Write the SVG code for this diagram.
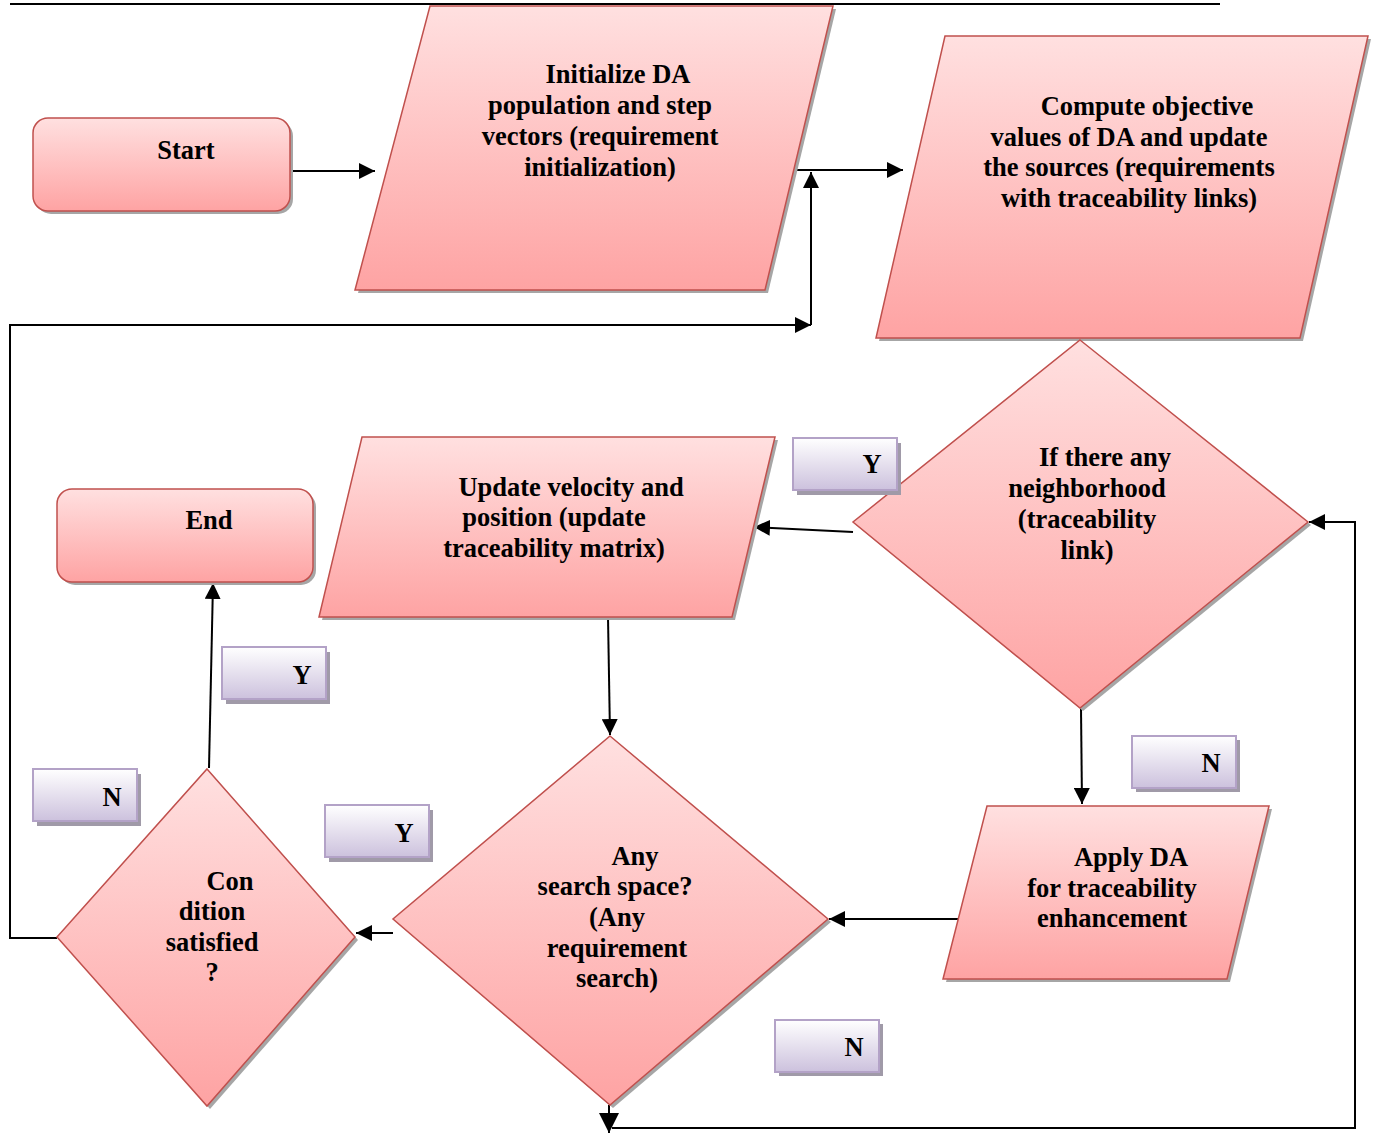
<svg xmlns="http://www.w3.org/2000/svg" width="1374" height="1134" viewBox="0 0 1374 1134">
<style>
.shp{stroke:#C0504D;stroke-width:1.5;fill:url(#pink)}
.sh{fill:#a6a6a6}
.lbl{stroke:#B3A2C7;stroke-width:2;fill:url(#lav)}
.lsh{fill:#a09aa8}
.t{font-family:"Liberation Serif","Times New Roman",serif;font-weight:bold;font-size:26.5px;fill:#000;text-anchor:middle}
.c{stroke:#000;stroke-width:2;fill:none}
</style>
<defs>
<linearGradient id="pink" x1="0" y1="0" x2="0" y2="1">
<stop offset="0" stop-color="#FFE0E0"/>
<stop offset="1" stop-color="#FEA3A3"/>
</linearGradient>
<linearGradient id="lav" x1="0" y1="0" x2="0" y2="1">
<stop offset="0" stop-color="#FFFFFF"/>
<stop offset="1" stop-color="#CCC1DD"/>
</linearGradient>
<marker id="ah" viewBox="0 0 10 10" refX="10" refY="5" markerWidth="16" markerHeight="16" markerUnits="userSpaceOnUse" orient="auto">
<path d="M0,0 L10,5 L0,10 Z" fill="#000"/>
</marker>
<marker id="ahb" viewBox="0 0 10 10" refX="10" refY="5" markerWidth="22" markerHeight="20" markerUnits="userSpaceOnUse" orient="auto">
<path d="M0,0 L10,5 L0,10 Z" fill="#000"/>
</marker>
</defs>
<rect width="1374" height="1134" fill="#fff"/>
<line x1="10" y1="4" x2="1220" y2="4" stroke="#000" stroke-width="2"/>

<g id="connectors">
<line class="c" x1="291" y1="171" x2="375" y2="171" marker-end="url(#ah)"/>
<line class="c" x1="795" y1="170" x2="903" y2="170" marker-end="url(#ah)"/>
<polyline class="c" points="57,938 10,938 10,325 811,325" marker-end="url(#ah)"/>
<line class="c" x1="811" y1="325" x2="811" y2="172" marker-end="url(#ah)"/>
<line class="c" x1="853" y1="532" x2="754" y2="527" marker-end="url(#ah)"/>
<line class="c" x1="1081" y1="708" x2="1082" y2="804" marker-end="url(#ah)"/>
<line class="c" x1="958" y1="919" x2="829" y2="919" marker-end="url(#ah)"/>
<line class="c" x1="608" y1="617" x2="610" y2="735" marker-end="url(#ah)"/>
<line class="c" x1="393" y1="933" x2="356" y2="933" marker-end="url(#ah)"/>
<line class="c" x1="209" y1="768" x2="213" y2="583" marker-end="url(#ah)"/>
<line class="c" x1="609" y1="1105" x2="609" y2="1133" marker-end="url(#ahb)"/>
<polyline class="c" points="612,1128 1355,1128 1355,522 1309,522" marker-end="url(#ah)"/>
</g>

<g id="start">
<rect class="sh" x="36" y="121" width="257" height="93" rx="15"/>
<rect class="shp" x="33" y="118" width="257" height="93" rx="15"/>
<text class="t" x="186" y="159">Start</text>
</g>

<g id="init">
<polygon class="sh" points="433,9 836,9 768,293 358,293"/>
<polygon class="shp" points="430,6 833,6 765,290 355,290"/>
<text class="t"><tspan x="618" y="83">Initialize DA</tspan><tspan x="600" y="114">population and step</tspan><tspan x="600" y="145">vectors (requirement</tspan><tspan x="600" y="176">initialization)</tspan></text>
</g>

<g id="compute">
<polygon class="sh" points="948,39 1371,39 1303,341 879,341"/>
<polygon class="shp" points="945,36 1368,36 1300,338 876,338"/>
<text class="t"><tspan x="1147" y="115">Compute objective</tspan><tspan x="1129" y="146">values of DA and update</tspan><tspan x="1129" y="176">the sources (requirements</tspan><tspan x="1129" y="207">with traceability links)</tspan></text>
</g>

<g id="neighborhood">
<polygon class="sh" points="1083,343 1311,525 1083,711 856,525"/>
<polygon class="shp" points="1080,340 1308,522 1080,708 853,522"/>
<text class="t"><tspan x="1105" y="466">If there any</tspan><tspan x="1087" y="497">neighborhood</tspan><tspan x="1087" y="528">(traceability</tspan><tspan x="1087" y="559">link)</tspan></text>
</g>

<g id="update">
<polygon class="sh" points="365,440 778,440 735,620 322,620"/>
<polygon class="shp" points="362,437 775,437 732,617 319,617"/>
<text class="t"><tspan x="571" y="496">Update velocity and</tspan><tspan x="554" y="526">position (update</tspan><tspan x="554" y="557">traceability matrix)</tspan></text>
</g>

<g id="apply">
<polygon class="sh" points="990,809 1272,809 1230,982 946,982"/>
<polygon class="shp" points="987,806 1269,806 1227,979 943,979"/>
<text class="t"><tspan x="1131" y="866">Apply DA</tspan><tspan x="1112" y="897">for traceability</tspan><tspan x="1112" y="927">enhancement</tspan></text>
</g>

<g id="searchspace">
<polygon class="sh" points="613,739 831,922 613,1108 396,922"/>
<polygon class="shp" points="610,736 828,919 610,1105 393,919"/>
<text class="t"><tspan x="635" y="865">Any</tspan><tspan x="615" y="895">search space?</tspan><tspan x="617" y="926">(Any</tspan><tspan x="617" y="957">requirement</tspan><tspan x="617" y="987">search)</tspan></text>
</g>

<g id="condition">
<polygon class="sh" points="210,772 358,940 210,1109 60,940"/>
<polygon class="shp" points="207,769 355,937 207,1106 57,937"/>
<text class="t"><tspan x="230" y="890">Con</tspan><tspan x="212" y="920">dition</tspan><tspan x="212" y="951">satisfied</tspan><tspan x="212" y="981">?</tspan></text>
</g>

<g id="end">
<rect class="sh" x="60" y="492" width="256" height="93" rx="15"/>
<rect class="shp" x="57" y="489" width="256" height="93" rx="15"/>
<text class="t" x="209" y="529">End</text>
</g>

<g id="label-y1">
<rect class="lsh" x="797" y="443" width="104" height="52"/>
<rect class="lbl" x="793" y="438" width="104" height="52"/>
<text class="t" x="872" y="473">Y</text>
</g>
<g id="label-n1">
<rect class="lsh" x="1136" y="740" width="104" height="52"/>
<rect class="lbl" x="1132" y="736" width="104" height="52"/>
<text class="t" x="1211" y="772">N</text>
</g>
<g id="label-n2">
<rect class="lsh" x="779" y="1024" width="104" height="52"/>
<rect class="lbl" x="775" y="1020" width="104" height="52"/>
<text class="t" x="854" y="1056">N</text>
</g>
<g id="label-y2">
<rect class="lsh" x="329" y="810" width="104" height="52"/>
<rect class="lbl" x="325" y="805" width="104" height="52"/>
<text class="t" x="404" y="842">Y</text>
</g>
<g id="label-n3">
<rect class="lsh" x="37" y="774" width="104" height="52"/>
<rect class="lbl" x="33" y="769" width="104" height="52"/>
<text class="t" x="112" y="806">N</text>
</g>
<g id="label-y3">
<rect class="lsh" x="226" y="652" width="104" height="52"/>
<rect class="lbl" x="222" y="647" width="104" height="52"/>
<text class="t" x="302" y="684">Y</text>
</g>
</svg>
